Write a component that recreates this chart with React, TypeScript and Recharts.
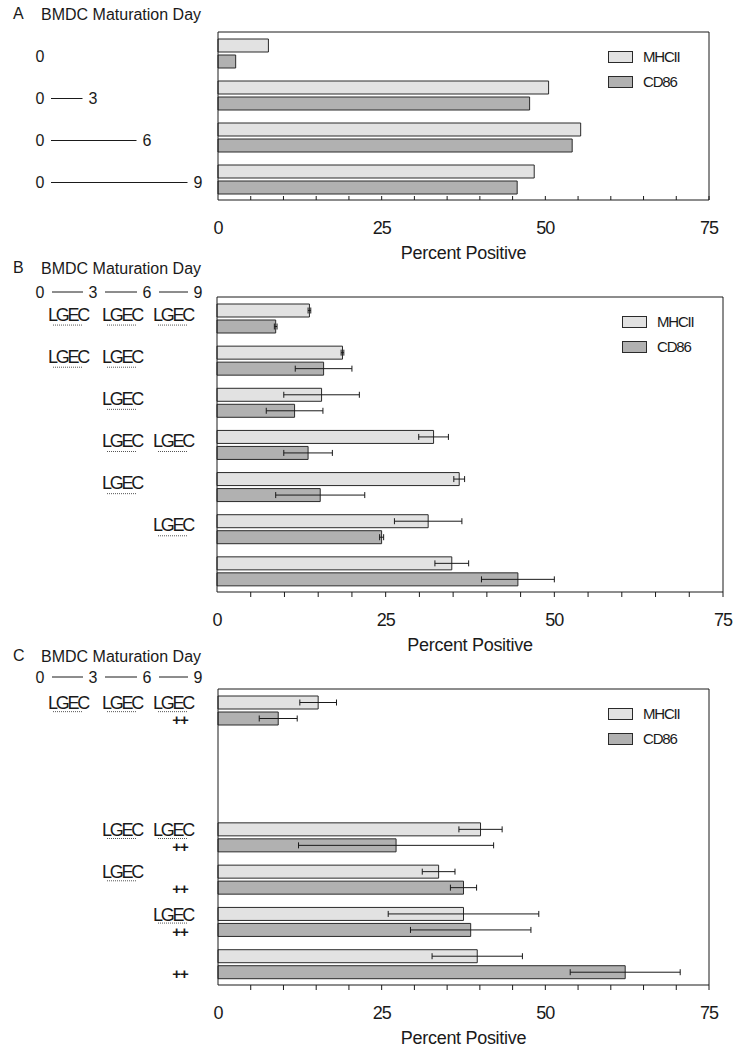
import React from "react";
import { Bar, BarChart, CartesianGrid, ErrorBar, XAxis, YAxis } from "recharts";

const FONT = "'Liberation Sans', Arial, Helvetica, sans-serif";
const INK = "#1a1a1a";
const MHC_FILL = "#e2e2e2";
const CD86_FILL = "#b1b1b1";
const BAR_STROKE = "#2a2a2a";

// minor ticks every 5 %, labels every 25 %
const PERCENT_TICKS = [0, 5, 10, 15, 20, 25, 30, 35, 40, 45, 50, 55, 60, 65, 70, 75];
const LABELLED_TICKS = [0, 25, 50, 75];

// where each maturation day sits in the left-hand key
const DAY_X: Record<number, number> = { 0: 40, 3: 93, 6: 147, 9: 198 };
const LGEC_COL_X = [68, 122, 173];
const PLUS_X = 180;

// Panel A: culture 0 -> end day, no treatment
const aEndDay = [null, 3, 6, 9];
const aMhc = [7.7, 50.5, 55.4, 48.3];
const aCd86 = [2.7, 47.6, 54.1, 45.7];

// Panel B: LGEC added in window 0-3 / 3-6 / 6-9
const bLgec = [
  [1, 1, 1],
  [1, 1, 0],
  [0, 1, 0],
  [0, 1, 1],
  [0, 1, 0],
  [0, 0, 1],
  [0, 0, 0],
];
const bMhc = [13.7, 18.6, 15.5, 32.1, 35.9, 31.3, 34.8];
const bMhcErr = [0.2, 0.2, 5.6, 2.2, 0.8, 5.0, 2.5];
const bCd86 = [8.7, 15.8, 11.5, 13.5, 15.3, 24.4, 44.6];
const bCd86Err = [0.2, 4.2, 4.2, 3.6, 6.6, 0.3, 5.4];

// Panel C: same windows, "++" = stimulation on day 9
const cLgec = [
  [1, 1, 1],
  [0, 0, 0],
  [0, 0, 0],
  [0, 1, 1],
  [0, 1, 0],
  [0, 0, 1],
  [0, 0, 0],
];
const cPlus = [1, 0, 0, 1, 1, 1, 1];
const cMhc = [15.3, null, null, 40.1, 33.7, 37.5, 39.6];
const cMhcErr = [2.8, null, null, 3.3, 2.5, 11.5, 6.9];
const cCd86 = [9.2, null, null, 27.2, 37.5, 38.6, 62.2];
const cCd86Err = [2.9, null, null, 14.9, 2.0, 9.2, 8.4];

const panelA = aEndDay.map((end, i) => ({ key: `a${i}`, end, mhc: aMhc[i], cd86: aCd86[i] }));
const panelB = bLgec.map((lgec, i) => ({
  key: `b${i}`,
  lgec,
  plus: 0,
  mhc: bMhc[i],
  mhcErr: bMhcErr[i],
  cd86: bCd86[i],
  cd86Err: bCd86Err[i],
}));
const panelC = cLgec.map((lgec, i) => ({
  key: `c${i}`,
  lgec,
  plus: cPlus[i],
  mhc: cMhc[i],
  mhcErr: cMhcErr[i],
  cd86: cCd86[i],
  cd86Err: cCd86Err[i],
}));

function PercentTick(props: any) {
  const { x, y, payload, inward } = props;
  const v = payload.value;
  return (
    <g>
      {v !== 0 && <line x1={x} x2={x} y1={y} y2={inward ? y - 4 : y + 5} stroke={INK} />}
      {LABELLED_TICKS.includes(v) && (
        <text
          x={x}
          y={y + 28}
          textAnchor="middle"
          dominantBaseline="central"
          fontSize={18}
          letterSpacing={-1}
          fill={INK}
          fontFamily={FONT}
        >
          {v}
        </text>
      )}
    </g>
  );
}

function DayRangeTick(props: any) {
  const { y, payload } = props;
  const row = panelA.find((r) => r.key === payload.value);
  if (!row) return null;
  const cy = y + 3.5;
  return (
    <g fontFamily={FONT} fontSize={16} fill={INK}>
      <text x={DAY_X[0]} y={cy} textAnchor="middle" dominantBaseline="central">0</text>
      {row.end != null && (
        <>
          <line x1={DAY_X[0] + 11} x2={DAY_X[row.end] - 10.5} y1={cy} y2={cy} stroke={INK} />
          <text x={DAY_X[row.end]} y={cy} textAnchor="middle" dominantBaseline="central">
            {row.end}
          </text>
        </>
      )}
    </g>
  );
}

function LgecTick(props: any) {
  const { y, payload, rows, textDy, lineDy, plusDy } = props;
  const row = rows.find((r: any) => r.key === payload.value);
  if (!row) return null;
  return (
    <g fontFamily={FONT} fill={INK}>
      {row.lgec.map((on: number, i: number) =>
        on ? (
          <g key={i}>
            <text
              x={LGEC_COL_X[i]}
              y={y + textDy}
              textAnchor="middle"
              dominantBaseline="central"
              fontSize={18}
              letterSpacing={-2.3}
            >
              LGEC
            </text>
            <line
              x1={LGEC_COL_X[i] - 15}
              x2={LGEC_COL_X[i] + 15}
              y1={y + lineDy}
              y2={y + lineDy}
              stroke="#555"
              strokeDasharray="1 1"
            />
          </g>
        ) : null
      )}
      {row.plus ? (
        <text
          x={PLUS_X}
          y={y + plusDy}
          textAnchor="middle"
          dominantBaseline="central"
          fontSize={15}
          fontWeight="bold"
          letterSpacing={-1}
        >
          ++
        </text>
      ) : null}
    </g>
  );
}

function SeriesKey({ left, top }: { left: number; top: number }) {
  const items = [
    { name: "MHCII", fill: MHC_FILL },
    { name: "CD86", fill: CD86_FILL },
  ];
  return (
    <div style={{ position: "absolute", left, top }}>
      {items.map((it) => (
        <div key={it.name} style={{ display: "flex", alignItems: "center", height: 25 }}>
          <div
            style={{
              width: 25,
              height: 12,
              boxSizing: "border-box",
              border: `1px solid ${BAR_STROKE}`,
              background: it.fill,
            }}
          />
          <span
            style={{
              marginLeft: 10,
              fontSize: 15,
              letterSpacing: -1.2,
              color: INK,
              fontFamily: FONT,
              lineHeight: "12px",
            }}
          >
            {it.name}
          </span>
        </div>
      ))}
    </div>
  );
}

interface PanelProps {
  data: any[];
  top: number;
  height: number;
  plotTop: number;
  plotBottom: number;
  left: number;
  right: number;
  inwardTicks?: boolean;
  withErrors?: boolean;
  yTick: any;
}

function Panel({ data, top, height, plotTop, plotBottom, left, right, inwardTicks, withErrors, yTick }: PanelProps) {
  return (
    <div style={{ position: "absolute", left: 0, top, width: 738, height }}>
      <BarChart
        width={738}
        height={height}
        data={data}
        layout="vertical"
        margin={{ top: plotTop - top, right: 738 - right, bottom: 0, left: 0 }}
        barSize={13}
        barGap={3}
      >
        {/* frame: top edge and right edge of the plot box */}
        <CartesianGrid
          stroke={INK}
          strokeDasharray=""
          horizontalCoordinatesGenerator={({ offset }: any) => [offset.top]}
          verticalCoordinatesGenerator={({ offset }: any) => [offset.left + offset.width]}
        />
        <XAxis
          type="number"
          domain={[0, 75]}
          ticks={PERCENT_TICKS}
          interval={0}
          height={top + height - plotBottom}
          tickSize={0}
          tickMargin={0}
          tickLine={false}
          axisLine={{ stroke: INK }}
          tick={(p: any) => <PercentTick {...p} inward={inwardTicks} />}
          label={{
            value: "Percent Positive",
            position: "insideTop",
            offset: 46,
            fontSize: 18,
            fill: INK,
            fontFamily: FONT,
            letterSpacing: -0.3,
          }}
        />
        <YAxis
          type="category"
          dataKey="key"
          width={left}
          interval={0}
          tickSize={0}
          tickMargin={0}
          tickLine={false}
          axisLine={{ stroke: INK }}
          tick={yTick}
        />
        <Bar dataKey="mhc" name="MHCII" fill={MHC_FILL} stroke={BAR_STROKE} strokeWidth={1} isAnimationActive={false}>
          {withErrors && (
            <ErrorBar dataKey="mhcErr" direction="x" width={3} stroke={INK} strokeWidth={1} isAnimationActive={false} />
          )}
        </Bar>
        <Bar dataKey="cd86" name="CD86" fill={CD86_FILL} stroke={BAR_STROKE} strokeWidth={1} isAnimationActive={false}>
          {withErrors && (
            <ErrorBar dataKey="cd86Err" direction="x" width={3} stroke={INK} strokeWidth={1} isAnimationActive={false} />
          )}
        </Bar>
      </BarChart>
      <SeriesKey left={right - 101} top={plotTop - top + 12} />
    </div>
  );
}

function Headers() {
  const txt = { fontFamily: FONT, fill: INK, dominantBaseline: "central" as const };
  const dayRow = (y: number) => (
    <g>
      {[0, 3, 6, 9].map((d) => (
        <text key={d} x={DAY_X[d]} y={y} textAnchor="middle" fontSize={16} {...txt}>
          {d}
        </text>
      ))}
      {[[0, 3], [3, 6], [6, 9]].map(([a, b]) => (
        <line key={a} x1={DAY_X[a] + 12} x2={DAY_X[b] - 10} y1={y} y2={y} stroke={INK} />
      ))}
    </g>
  );
  const title = (letter: string, y: number) => (
    <g>
      <text x={13} y={y} fontSize={16} {...txt}>{letter}</text>
      <text x={41} y={y + 1} fontSize={16} {...txt}>BMDC Maturation Day</text>
    </g>
  );
  return (
    <svg width={738} height={1050} style={{ position: "absolute", left: 0, top: 0, pointerEvents: "none" }}>
      {title("A", 13)}
      {title("B", 267)}
      {dayRow(292)}
      {title("C", 655)}
      {dayRow(677)}
    </svg>
  );
}

export default function App() {
  return (
    <div
      style={{
        position: "absolute",
        left: 0,
        top: 0,
        width: 738,
        height: 1050,
        background: "#fff",
        fontFamily: FONT,
        overflow: "hidden",
      }}
    >
      <Headers />
      <Panel
        data={panelA}
        top={0}
        height={270}
        plotTop={32}
        plotBottom={200}
        left={218}
        right={709}
        inwardTicks
        yTick={(p: any) => <DayRangeTick {...p} />}
      />
      <Panel
        data={panelB}
        top={250}
        height={420}
        plotTop={297}
        plotBottom={592}
        left={217}
        right={723}
        withErrors
        yTick={(p: any) => <LgecTick {...p} rows={panelB} textDy={-3.5} lineDy={7} plusDy={9} />}
      />
      <Panel
        data={panelC}
        top={660}
        height={390}
        plotTop={689}
        plotBottom={985}
        left={218}
        right={709}
        withErrors
        yTick={(p: any) => <LgecTick {...p} rows={panelC} textDy={-7} lineDy={1.5} plusDy={9.5} />}
      />
    </div>
  );
}
